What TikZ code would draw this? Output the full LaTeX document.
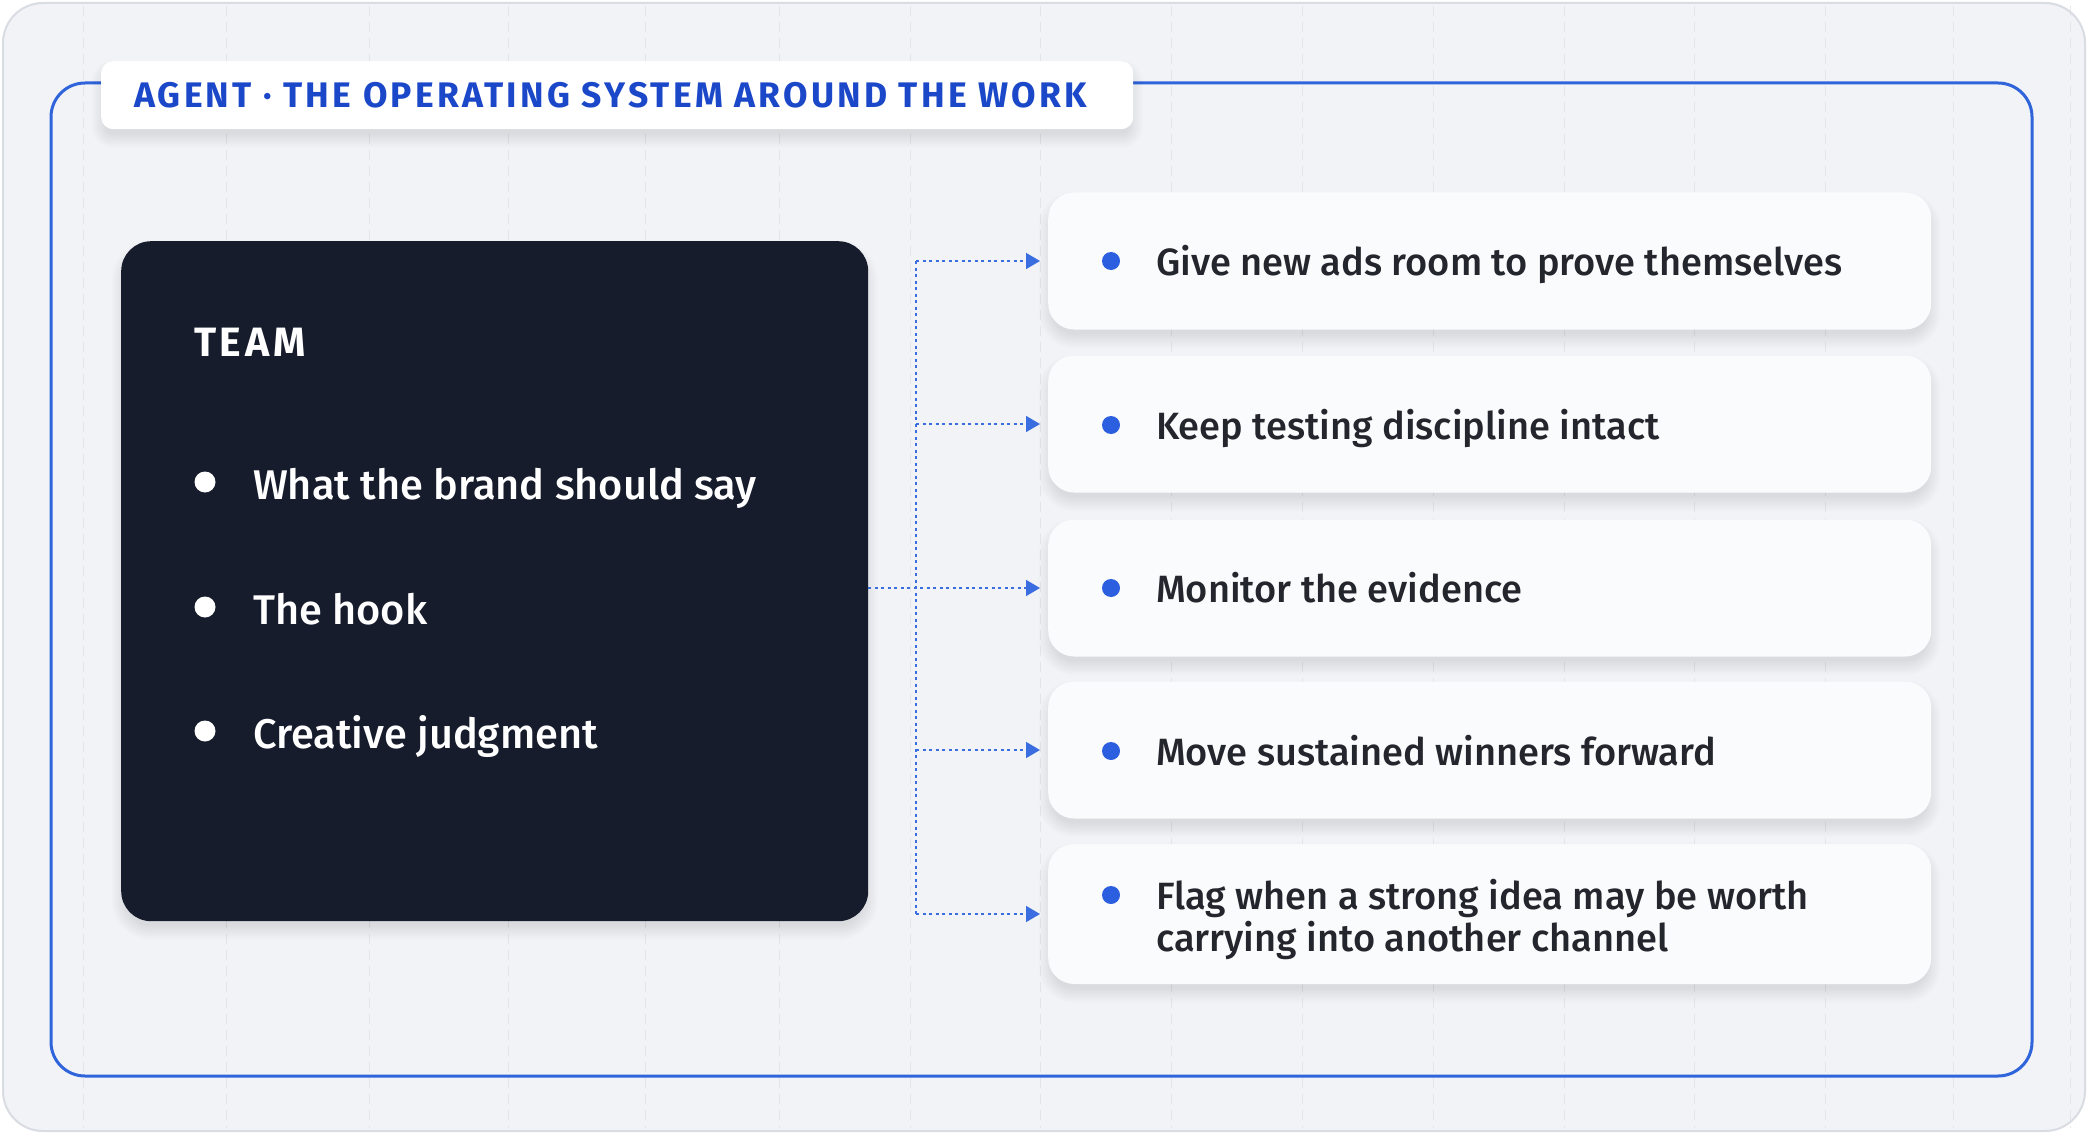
\documentclass[tikz,border=0pt]{standalone}
\usepackage{fontspec}
\setmainfont{Fira Sans}
\IfFontExistsTF{Fira Sans Medium}{\newfontfamily\medfont{Fira Sans Medium}}{\newfontfamily\medfont{Fira Sans}[FakeBold=1]}
\usetikzlibrary{arrows.meta,positioning,calc}
\pgfdeclarelayer{bg}
\pgfsetlayers{bg,main}
\definecolor{pagebg}{HTML}{FFFFFF}
\definecolor{cardbg}{HTML}{F1F3F7}
\definecolor{cardborder}{HTML}{D9DCE2}
\definecolor{gridc}{HTML}{DCDFE5}
\definecolor{frameblue}{HTML}{2F64DA}
\definecolor{titleblue}{HTML}{1B47C9}
\definecolor{darkbox}{HTML}{161C2B}
\definecolor{itembg}{HTML}{FAFBFC}
\definecolor{itemtext}{HTML}{23262C}
\definecolor{dotblue}{HTML}{2B5FE0}
\definecolor{connblue}{HTML}{3A6EE0}
\newcommand{\castshadow}[2]{%
  \begin{pgfonlayer}{bg}
  \foreach \k in {1,...,12}{%
    \pgfmathsetmacro{\she}{\k*1.3-6}%
    \pgfmathsetmacro{\shr}{#2+\she}%
    \fill[black, opacity=0.009, rounded corners=\shr pt]
      ($(#1.north west)+(-\she,-\she+9)$) rectangle ($(#1.south east)+(\she,\she+9)$);
  }
  \end{pgfonlayer}}
\tikzset{
  itemcard/.style={fill=itembg, draw=none, rounded corners=26pt, minimum width=883pt, minimum height=137pt, anchor=west},
  itemtxt/.style={anchor=base west, text=itemtext, font=\medfont\fontsize{38}{43}\selectfont, inner sep=0pt},
  bluedot/.style={circle, fill=dotblue, minimum size=18pt, inner sep=0pt},
  whitedot/.style={circle, fill=white, minimum size=21pt, inner sep=0pt},
  teamtxt/.style={anchor=base west, text=white, font=\medfont\fontsize{41.5}{50}\selectfont, inner sep=0pt},
  conn/.style={draw=connblue, line width=1.6pt, dash pattern=on 3pt off 3.5pt},
  arrowconn/.style={conn, -{Triangle[length=14pt,width=16pt]}, shorten >=8pt},
  gridline/.style={draw=gridc, line width=1pt, dash pattern=on 10pt off 6pt, opacity=0.7},
}
\begin{document}
\begin{tikzpicture}[x=1pt,y=-1pt]
\useasboundingbox (0,0) rectangle (2088,1134);
\begin{pgfonlayer}{bg}
\fill[pagebg] (0,0) rectangle (2088,1134);
% outer card
\draw[draw=cardborder, fill=cardbg, line width=2pt, rounded corners=40pt] (3,3) rectangle (2085,1131);
% faint grid
\foreach \gx in {83,226,369,508,645,779,910,1040,1171,1302,1433,1564,1694,1825,1953,2070}
  \draw[gridline] (\gx,6) -- (\gx,1128);
% blue frame
\draw[draw=frameblue, line width=3pt, rounded corners=34pt] (51,83) rectangle (2032,1076);
\end{pgfonlayer}
% title tab
\node[fill=white, rounded corners=12pt, minimum width=1032pt, minimum height=68pt, anchor=north west] (tab) at (101,61) {};
\node[anchor=base west, text=titleblue, inner sep=0pt, font=\bfseries\fontsize{35.5}{38}\selectfont\addfontfeatures{LetterSpace=9}] (titletext) at (134,108) {AGENT · THE OPERATING SYSTEM AROUND THE WORK};
% team box
\node[fill=darkbox, rounded corners=30pt, minimum width=747pt, minimum height=680pt, anchor=north west] (team) at (121,241) {};
\node[anchor=base west, text=white, inner sep=0pt, font=\bfseries\fontsize{41}{44}\selectfont\addfontfeatures{LetterSpace=9}] (teamtitle) at (194,356) {TEAM};
\node[whitedot] (td1) at (205,482) {};
\node[teamtxt] (tt1) at (253,499) {What the brand should say};
\node[whitedot] (td2) at (205,607) {};
\node[teamtxt] (tt2) at (253,624) {The hook};
\node[whitedot] (td3) at (205,731) {};
\node[teamtxt] (tt3) at (253,748) {Creative judgment};
% item cards
\node[itemcard] (c1) at (1048,261) {};
\node[itemcard] (c2) at (1048,424) {};
\node[itemcard] (c3) at (1048,588) {};
\node[itemcard] (c4) at (1048,750) {};
\node[itemcard, minimum height=140pt] (c5) at (1048,914) {};
\node[bluedot] (d1) at (1111,261) {};
\node[itemtxt] (i1) at (1156,275) {Give new ads room to prove themselves};
\node[bluedot] (d2) at (1111,425) {};
\node[itemtxt] (i2) at (1156,439) {Keep testing discipline intact};
\node[bluedot] (d3) at (1111,588) {};
\node[itemtxt] (i3) at (1156,602) {Monitor the evidence};
\node[bluedot] (d4) at (1111,751) {};
\node[itemtxt] (i4) at (1156,765) {Move sustained winners forward};
\node[bluedot] (d5) at (1111,895) {};
\node[itemtxt] (i5) at (1156,909) {Flag when a strong idea may be worth};
\node[itemtxt] (i5b) at (1156,951) {carrying into another channel};
% shadows
\castshadow{tab}{12}
\castshadow{team}{30}
\castshadow{c1}{26}
\castshadow{c2}{26}
\castshadow{c3}{26}
\castshadow{c4}{26}
\castshadow{c5}{26}
% connectors
\coordinate (tx) at (916,0);
\draw[conn] (tx |- c1.west) -- (tx |- c5.west);
\draw[arrowconn] (team.east |- c3.west) -- (c3.west);
\draw[arrowconn] (tx |- c1.west) -- (c1.west);
\draw[arrowconn] (tx |- c2.west) -- (c2.west);
\draw[arrowconn] (tx |- c4.west) -- (c4.west);
\draw[arrowconn] (tx |- c5.west) -- (c5.west);
\end{tikzpicture}
\end{document}
